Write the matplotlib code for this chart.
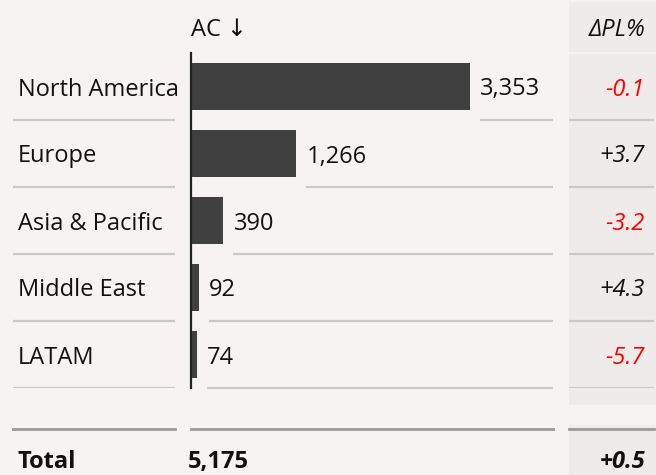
"""Regional AC table chart with bars and a delta-PL% column."""

import matplotlib.pyplot as plt
from matplotlib.lines import Line2D
from matplotlib.patches import Rectangle

regions = ["North America", "Europe", "Asia & Pacific", "Middle East", "LATAM"]
ac = [3353, 1266, 390, 92, 74]
delta_pl = [-0.1, 3.7, -3.2, 4.3, -5.7]
total_ac = 5175
total_delta_pl = 0.5

W, H = 656, 475
BG = "#f6f3f2"
COL_BG = "#eeebea"
BAR = "#404040"
GRID = "#cbc9c8"
TOTAL_LINE = "#9a9a9a"
NEG = "#ff0000"
TXT = "#111111"
FS = 17
ROW_PX = 67
BASE = 9 / ROW_PX  # baseline offset below row centre, in row units

plt.rcParams["font.family"] = ["Open Sans", "DejaVu Sans"]


def box(x0, y0, x1, y1):
    # pixel box (top-left origin) -> figure rect
    return [x0 / W, 1 - y1 / H, (x1 - x0) / W, (y1 - y0) / H]


def fy(y):
    return 1 - y / H


fig = plt.figure(figsize=(W / 100, H / 100), dpi=100, facecolor=BG)

# shaded delta column
fig.add_artist(Rectangle((569 / W, fy(405)), 87 / W, (405 - 2) / H,
                         transform=fig.transFigure, color=COL_BG, lw=0, zorder=0))
fig.add_artist(Rectangle((569 / W, 0), 87 / W, (475 - 425) / H,
                         transform=fig.transFigure, color=COL_BG, lw=0, zorder=0))
fig.add_artist(Line2D([569 / W, 1], [fy(53), fy(53)], transform=fig.transFigure,
                      color="#f8f7f6", lw=1.2))

n = len(regions)
rows = list(range(n))
seps = [i + 0.5 for i in rows]

# label column
ax_lab = fig.add_axes(box(13, 53, 175, 388))
ax_lab.set_xlim(0, 162)
ax_lab.set_ylim(n - 0.5, -0.5)
ax_lab.axis("off")
for i, name in enumerate(regions):
    ax_lab.text(5, i + BASE, name, ha="left", va="baseline", fontsize=FS, color=TXT)
ax_lab.hlines(seps, 0, 162, color=GRID, lw=1.6)

# bar column
xmax = 3353 * 362 / 279
ax_bar = fig.add_axes(box(191, 53, 553, 388))
ax_bar.set_facecolor("none")
ax_bar.barh(rows, ac, height=0.7, color=BAR)
ax_bar.set_xlim(0, xmax)
ax_bar.set_ylim(n - 0.5, -0.5)
for s in ["top", "right", "bottom"]:
    ax_bar.spines[s].set_visible(False)
ax_bar.spines["left"].set_linewidth(1.6)
ax_bar.spines["left"].set_color("#222222")
ax_bar.set_xticks([])
ax_bar.set_yticks([])
pad = 10 * xmax / 362
for i, v in enumerate(ac):
    ax_bar.text(v + pad, i + BASE, f"{v:,}", ha="left", va="baseline", fontsize=FS, color=TXT)
    ax_bar.plot([v + pad, xmax], [i + 0.5, i + 0.5], color=GRID, lw=1.6,
                solid_capstyle="butt", clip_on=False)

# delta column
ax_d = fig.add_axes(box(569, 53, 654, 388))
ax_d.set_xlim(0, 85)
ax_d.set_ylim(n - 0.5, -0.5)
ax_d.axis("off")
for i, d in enumerate(delta_pl):
    ax_d.text(76, i + BASE, f"{d:+.1f}", ha="right", va="baseline", fontsize=FS,
              style="italic", color=NEG if d < 0 else TXT)
ax_d.hlines(seps, 0, 85, color=GRID, lw=1.6)

# headers
fig.text(191 / W, fy(36), "AC ↓", ha="left", va="baseline", fontsize=FS, color=TXT)
fig.text(645 / W, fy(36), "ΔPL%", ha="right", va="baseline", fontsize=FS,
         style="italic", color=TXT)

# total row
for x0, x1 in [(13, 175), (191, 553), (569, 654)]:
    fig.add_artist(Line2D([x0 / W, x1 / W], [fy(429), fy(429)], transform=fig.transFigure,
                          color=TOTAL_LINE, lw=2))
fig.text(18 / W, fy(468), "Total", ha="left", va="baseline", fontsize=FS,
         weight="bold", color=TXT)
fig.text(188 / W, fy(468), f"{total_ac:,}", ha="left", va="baseline", fontsize=FS,
         weight="bold", color=TXT)
fig.text(645 / W, fy(468), f"{total_delta_pl:+.1f}", ha="right", va="baseline",
         fontsize=FS, weight="bold", style="italic", color=TXT)

fig.savefig("out.png", dpi=100, facecolor=BG)
